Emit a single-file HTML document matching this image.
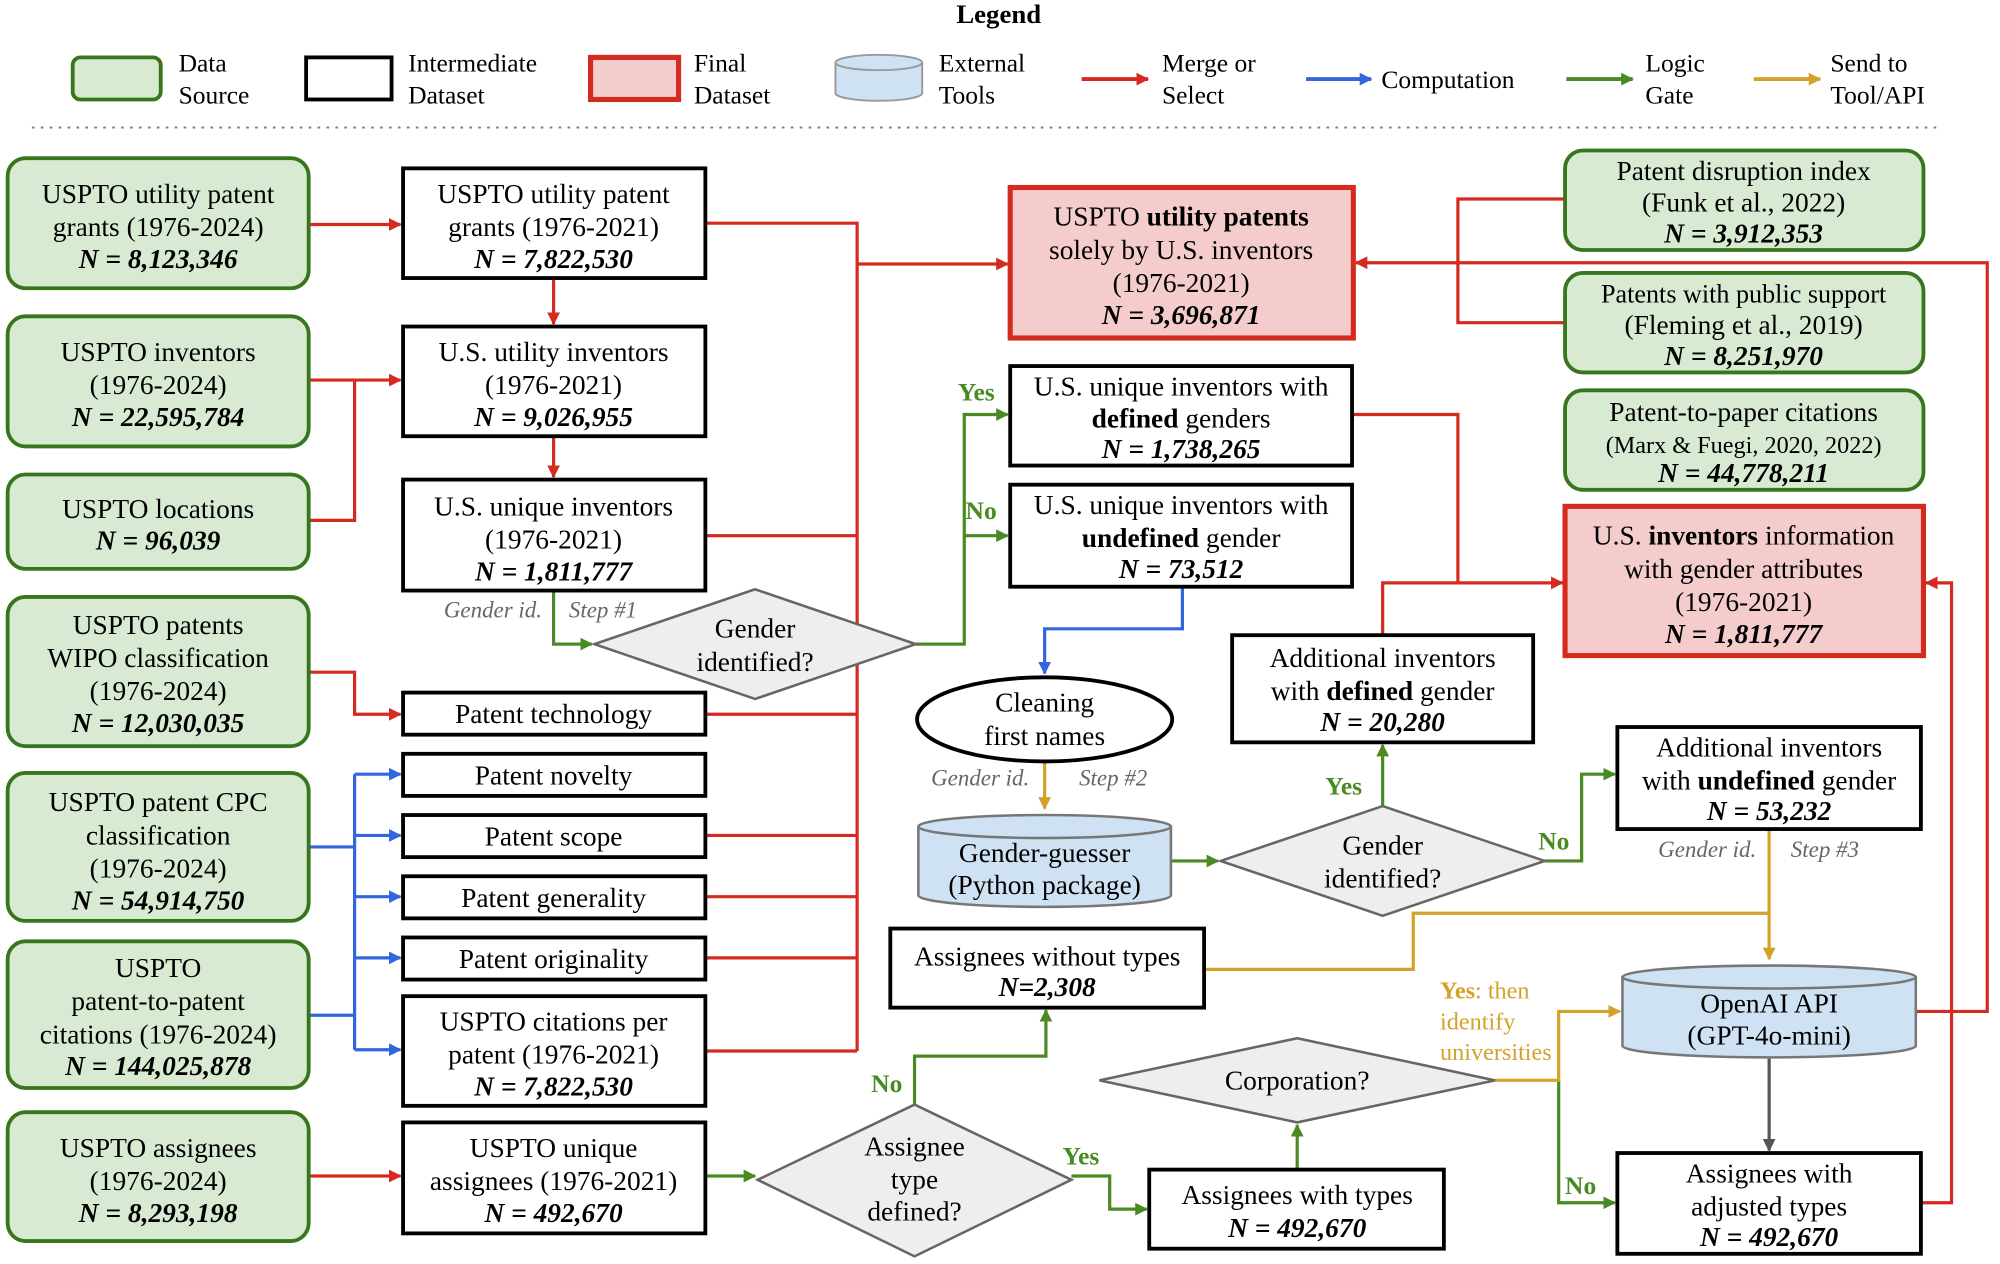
<!DOCTYPE html>
<html><head><meta charset="utf-8"><style>
html,body{margin:0;padding:0;background:#fff}
svg{display:block}
text{font-family:"Liberation Serif",serif;font-size:21.5px;fill:#000}
.b{font-weight:bold;font-style:italic}
.c{text-anchor:middle}
.lg{font-size:20px}
.gi{font-style:italic;fill:#666;font-size:18px}
.y{fill:#4a8a23;font-weight:bold;font-size:20px}
.o{fill:#d4a22a;font-size:19px}
</style></head><body>
<svg width="2000" height="1264" viewBox="0 0 1568 991" preserveAspectRatio="none" xmlns="http://www.w3.org/2000/svg">
<defs>
<marker id="mr" markerWidth="10" markerHeight="10" refX="9" refY="5" orient="auto" markerUnits="userSpaceOnUse"><path d="M0,0 L10,5 L0,10 z" fill="#d42a1f"/></marker>
<marker id="mb" markerWidth="10" markerHeight="10" refX="9" refY="5" orient="auto" markerUnits="userSpaceOnUse"><path d="M0,0 L10,5 L0,10 z" fill="#3366dd"/></marker>
<marker id="mg" markerWidth="10" markerHeight="10" refX="9" refY="5" orient="auto" markerUnits="userSpaceOnUse"><path d="M0,0 L10,5 L0,10 z" fill="#4a8a23"/></marker>
<marker id="mo" markerWidth="10" markerHeight="10" refX="9" refY="5" orient="auto" markerUnits="userSpaceOnUse"><path d="M0,0 L10,5 L0,10 z" fill="#d4a22a"/></marker>
<marker id="mk" markerWidth="10" markerHeight="10" refX="9" refY="5" orient="auto" markerUnits="userSpaceOnUse"><path d="M0,0 L10,5 L0,10 z" fill="#555"/></marker>
</defs>

<text x="783" y="18" class="c" style="font-weight:bold;font-size:21px">Legend</text>
<rect x="57" y="45" width="69" height="33" rx="6" fill="#d9ead3" stroke="#38761d" stroke-width="3"/>
<text x="140" y="56" class="lg">Data</text><text x="140" y="81" class="lg">Source</text>
<rect x="240" y="45" width="67" height="33" fill="#fff" stroke="#000" stroke-width="3"/>
<text x="320" y="56" class="lg">Intermediate</text><text x="320" y="81" class="lg">Dataset</text>
<rect x="463" y="45" width="69" height="33" fill="#f4cccc" stroke="#d42a1f" stroke-width="4"/>
<text x="544" y="56" class="lg">Final</text><text x="544" y="81" class="lg">Dataset</text>
<path d="M655,49 v24 a34,6 0 0 0 68,0 v-24" fill="#cfe2f3" stroke="#999" stroke-width="1.5"/>
<ellipse cx="689" cy="49" rx="34" ry="6" fill="#cfe2f3" stroke="#999" stroke-width="1.5"/>
<text x="736" y="56" class="lg">External</text><text x="736" y="81" class="lg">Tools</text>
<line x1="848" y1="62" x2="900" y2="62" stroke="#d42a1f" stroke-width="3" marker-end="url(#mr)"/>
<text x="911" y="56" class="lg">Merge or</text><text x="911" y="81" class="lg">Select</text>
<line x1="1024" y1="62" x2="1075" y2="62" stroke="#3366dd" stroke-width="3" marker-end="url(#mb)"/>
<text x="1083" y="69" class="lg">Computation</text>
<line x1="1228" y1="62" x2="1280" y2="62" stroke="#4a8a23" stroke-width="3" marker-end="url(#mg)"/>
<text x="1290" y="56" class="lg">Logic</text><text x="1290" y="81" class="lg">Gate</text>
<line x1="1375" y1="62" x2="1427" y2="62" stroke="#d4a22a" stroke-width="3" marker-end="url(#mo)"/>
<text x="1435" y="56" class="lg">Send to</text><text x="1435" y="81" class="lg">Tool/API</text>
<line x1="25" y1="100" x2="1520" y2="100" stroke="#777" stroke-width="1.5" stroke-dasharray="2,5"/>

<g fill="none" stroke-width="2.5">
<g stroke="#d42a1f">
<path d="M242,176 H314" marker-end="url(#mr)"/>
<path d="M242,298 H314" marker-end="url(#mr)"/>
<path d="M242,408 H278 V298"/>
<path d="M434,218 V254" marker-end="url(#mr)"/>
<path d="M434,342 V374" marker-end="url(#mr)"/>
<path d="M242,527 H278 V560 H314" marker-end="url(#mr)"/>
<path d="M242,922 H314" marker-end="url(#mr)"/>
<path d="M553,175 H672 V824"/>
<path d="M553,420 H672 M553,560 H672 M553,655 H672 M553,703 H672 M553,751 H672 M553,824 H672"/>
<path d="M672,207 H790" marker-end="url(#mr)"/>
<path d="M1060,325 H1143 V457"/>
<path d="M1084,498 V457 H1225" marker-end="url(#mr)"/>
<path d="M1227,156 H1143 V253 H1227"/>
<path d="M1502,793 H1558 V206 H1063" marker-end="url(#mr)"/>
<path d="M1506,943 H1530 V457 H1510" marker-end="url(#mr)"/>
</g>
<g stroke="#3366dd">
<path d="M242,664 H278 M242,796 H278 M278,607 V823"/>
<path d="M278,607 H314" marker-end="url(#mb)"/>
<path d="M278,655 H314" marker-end="url(#mb)"/>
<path d="M278,703 H314" marker-end="url(#mb)"/>
<path d="M278,751 H314" marker-end="url(#mb)"/>
<path d="M278,823 H314" marker-end="url(#mb)"/>
<path d="M927,460 V493 H819 V528" marker-end="url(#mb)"/>
</g>
<g stroke="#4a8a23">
<path d="M434,463 V505 H464" marker-end="url(#mg)"/>
<path d="M718,505 H756 V325 H790" marker-end="url(#mg)"/>
<path d="M756,420 H790" marker-end="url(#mg)"/>
<path d="M918,675 H955" marker-end="url(#mg)"/>
<path d="M1084,632 V584" marker-end="url(#mg)"/>
<path d="M1211,675 H1240 V607 H1266" marker-end="url(#mg)"/>
<path d="M553,922 H592" marker-end="url(#mg)"/>
<path d="M717,866 V828 H820 V792" marker-end="url(#mg)"/>
<path d="M840,922 H870 V948 H899" marker-end="url(#mg)"/>
<path d="M1017,917 V882" marker-end="url(#mg)"/>
<path d="M1222,847 V943 H1266" marker-end="url(#mg)"/>
</g>
<g stroke="#d4a22a">
<path d="M819,597 V634" marker-end="url(#mo)"/>
<path d="M1387,650 V752" marker-end="url(#mo)"/>
<path d="M944,760 H1108 V716 H1387"/>
<path d="M1172,847 H1222 V793 H1270" marker-end="url(#mo)"/>
</g>
<path d="M1387,830 V902" stroke="#555" marker-end="url(#mk)"/>
</g>

<g fill="#d9ead3" stroke="#38761d" stroke-width="3">
<rect x="6" y="124" width="236" height="102" rx="14"/>
<rect x="6" y="248" width="236" height="102" rx="14"/>
<rect x="6" y="372" width="236" height="74" rx="14"/>
<rect x="6" y="468" width="236" height="117" rx="14"/>
<rect x="6" y="606" width="236" height="116" rx="14"/>
<rect x="6" y="738" width="236" height="115" rx="14"/>
<rect x="6" y="872" width="236" height="101" rx="14"/>
<rect x="1227" y="118" width="281" height="78" rx="14"/>
<rect x="1227" y="214" width="281" height="78" rx="14"/>
<rect x="1227" y="306" width="281" height="78" rx="14"/>
</g>
<text x="124" y="159" class="c">USPTO utility patent</text><text x="124" y="185" class="c">grants (1976-2024)</text><text x="124" y="210" class="c b">N = 8,123,346</text>
<text x="124" y="283" class="c">USPTO inventors</text><text x="124" y="309" class="c">(1976-2024)</text><text x="124" y="334" class="c b">N = 22,595,784</text>
<text x="124" y="406" class="c">USPTO locations</text><text x="124" y="431" class="c b">N = 96,039</text>
<text x="124" y="497" class="c">USPTO patents</text><text x="124" y="523" class="c">WIPO classification</text><text x="124" y="549" class="c">(1976-2024)</text><text x="124" y="574" class="c b">N = 12,030,035</text>
<text x="124" y="636" class="c">USPTO patent CPC</text><text x="124" y="662" class="c">classification</text><text x="124" y="688" class="c">(1976-2024)</text><text x="124" y="713" class="c b">N = 54,914,750</text>
<text x="124" y="766" class="c">USPTO</text><text x="124" y="792" class="c">patent-to-patent</text><text x="124" y="818" class="c">citations (1976-2024)</text><text x="124" y="843" class="c b">N = 144,025,878</text>
<text x="124" y="907" class="c">USPTO assignees</text><text x="124" y="933" class="c">(1976-2024)</text><text x="124" y="958" class="c b">N = 8,293,198</text>
<text x="1367" y="141" class="c">Patent disruption index</text><text x="1367" y="166" class="c">(Funk et al., 2022)</text><text x="1367" y="190" class="c b">N = 3,912,353</text>
<text x="1367" y="237" class="c" style="font-size:20.5px">Patents with public support</text><text x="1367" y="262" class="c">(Fleming et al., 2019)</text><text x="1367" y="286" class="c b">N = 8,251,970</text>
<text x="1367" y="330" class="c">Patent-to-paper citations</text><text x="1367" y="355" class="c" style="font-size:19px">(Marx &amp; Fuegi, 2020, 2022)</text><text x="1367" y="378" class="c b">N = 44,778,211</text>

<g fill="#fff" stroke="#000" stroke-width="3">
<rect x="316" y="132" width="237" height="86"/>
<rect x="316" y="256" width="237" height="86"/>
<rect x="316" y="376" width="237" height="87"/>
<rect x="316" y="543" width="237" height="33"/>
<rect x="316" y="591" width="237" height="33"/>
<rect x="316" y="639" width="237" height="33"/>
<rect x="316" y="687" width="237" height="33"/>
<rect x="316" y="735" width="237" height="33"/>
<rect x="316" y="781" width="237" height="86"/>
<rect x="316" y="880" width="237" height="87"/>
<rect x="792" y="287" width="268" height="78"/>
<rect x="792" y="380" width="268" height="80"/>
<rect x="966" y="498" width="236" height="84"/>
<rect x="1268" y="570" width="238" height="80"/>
<rect x="698" y="728" width="246" height="62"/>
<rect x="901" y="917" width="231" height="62"/>
<rect x="1268" y="904" width="238" height="79"/>
</g>
<text x="434" y="159" class="c">USPTO utility patent</text><text x="434" y="185" class="c">grants (1976-2021)</text><text x="434" y="210" class="c b">N = 7,822,530</text>
<text x="434" y="283" class="c">U.S. utility inventors</text><text x="434" y="309" class="c">(1976-2021)</text><text x="434" y="334" class="c b">N = 9,026,955</text>
<text x="434" y="404" class="c">U.S. unique inventors</text><text x="434" y="430" class="c">(1976-2021)</text><text x="434" y="455" class="c b">N = 1,811,777</text>
<text x="434" y="567" class="c">Patent technology</text>
<text x="434" y="615" class="c">Patent novelty</text>
<text x="434" y="663" class="c">Patent scope</text>
<text x="434" y="711" class="c">Patent generality</text>
<text x="434" y="759" class="c">Patent originality</text>
<text x="434" y="808" class="c">USPTO citations per</text><text x="434" y="834" class="c">patent (1976-2021)</text><text x="434" y="859" class="c b">N = 7,822,530</text>
<text x="434" y="907" class="c">USPTO unique</text><text x="434" y="933" class="c">assignees (1976-2021)</text><text x="434" y="958" class="c b">N = 492,670</text>
<text x="926" y="310" class="c">U.S. unique inventors with</text><text x="926" y="335" class="c"><tspan font-weight="bold">defined</tspan> genders</text><text x="926" y="359" class="c b">N = 1,738,265</text>
<text x="926" y="403" class="c">U.S. unique inventors with</text><text x="926" y="429" class="c"><tspan font-weight="bold">undefined</tspan> gender</text><text x="926" y="453" class="c b">N = 73,512</text>
<text x="1084" y="523" class="c">Additional inventors</text><text x="1084" y="549" class="c">with <tspan font-weight="bold">defined</tspan> gender</text><text x="1084" y="573" class="c b">N = 20,280</text>
<text x="1387" y="593" class="c">Additional inventors</text><text x="1387" y="619" class="c">with <tspan font-weight="bold">undefined</tspan> gender</text><text x="1387" y="643" class="c b">N = 53,232</text>
<text x="821" y="757" class="c">Assignees without types</text><text x="821" y="781" class="c b">N=2,308</text>
<text x="1017" y="944" class="c">Assignees with types</text><text x="1017" y="970" class="c b">N = 492,670</text>
<text x="1387" y="927" class="c">Assignees with</text><text x="1387" y="953" class="c">adjusted types</text><text x="1387" y="977" class="c b">N = 492,670</text>

<rect x="792" y="147" width="269" height="118" fill="#f4cccc" stroke="#d42a1f" stroke-width="4"/>
<text x="926" y="177" class="c">USPTO <tspan font-weight="bold">utility patents</tspan></text><text x="926" y="203" class="c">solely by U.S. inventors</text><text x="926" y="229" class="c">(1976-2021)</text><text x="926" y="254" class="c b">N = 3,696,871</text>
<rect x="1227" y="397" width="281" height="117" fill="#f4cccc" stroke="#d42a1f" stroke-width="4"/>
<text x="1367" y="427" class="c">U.S. <tspan font-weight="bold">inventors</tspan> information</text><text x="1367" y="453" class="c">with gender attributes</text><text x="1367" y="479" class="c">(1976-2021)</text><text x="1367" y="504" class="c b">N = 1,811,777</text>

<g fill="#eee" stroke="#666" stroke-width="2">
<polygon points="592,462 718,505 592,548 466,505"/>
<polygon points="1084,632 1211,675 1084,718 957,675"/>
<polygon points="1017,814 1172,847 1017,880 862,847"/>
<polygon points="717,866 840,925 717,985 594,925"/>
</g>
<text x="592" y="500" class="c">Gender</text><text x="592" y="526" class="c">identified?</text>
<text x="1084" y="670" class="c">Gender</text><text x="1084" y="696" class="c">identified?</text>
<text x="1017" y="854" class="c">Corporation?</text>
<text x="717" y="906" class="c">Assignee</text><text x="717" y="932" class="c">type</text><text x="717" y="957" class="c">defined?</text>

<ellipse cx="819" cy="564" rx="100" ry="33" fill="#fff" stroke="#000" stroke-width="3"/>
<text x="819" y="558" class="c">Cleaning</text><text x="819" y="584" class="c">first names</text>

<path d="M720,648 v54 a99,9 0 0 0 198,0 v-54" fill="#cfe2f3" stroke="#777" stroke-width="2"/>
<ellipse cx="819" cy="648" rx="99" ry="9" fill="#cfe2f3" stroke="#777" stroke-width="2"/>
<text x="819" y="676" class="c">Gender-guesser</text><text x="819" y="701" class="c">(Python package)</text>
<path d="M1272,766 v54 a115,9 0 0 0 230,0 v-54" fill="#cfe2f3" stroke="#777" stroke-width="2"/>
<ellipse cx="1387" cy="766" rx="115" ry="9" fill="#cfe2f3" stroke="#777" stroke-width="2"/>
<text x="1387" y="794" class="c">OpenAI API</text><text x="1387" y="819" class="c">(GPT-4o-mini)</text>

<text x="348" y="484" class="gi">Gender id.</text><text x="446" y="484" class="gi">Step #1</text>
<text x="730" y="616" class="gi">Gender id.</text><text x="846" y="616" class="gi">Step #2</text>
<text x="1300" y="672" class="gi">Gender id.</text><text x="1404" y="672" class="gi">Step #3</text>
<text x="751" y="314" class="y">Yes</text>
<text x="757" y="407" class="y">No</text>
<text x="1039" y="623" class="y">Yes</text>
<text x="1206" y="666" class="y">No</text>
<text x="683" y="856" class="y">No</text>
<text x="833" y="913" class="y">Yes</text>
<text x="1227" y="936" class="y">No</text>
<text x="1129" y="783" class="o"><tspan font-weight="bold">Yes</tspan>: then</text>
<text x="1129" y="807" class="o">identify</text>
<text x="1129" y="831" class="o">universities</text>
</svg>
</body></html>
